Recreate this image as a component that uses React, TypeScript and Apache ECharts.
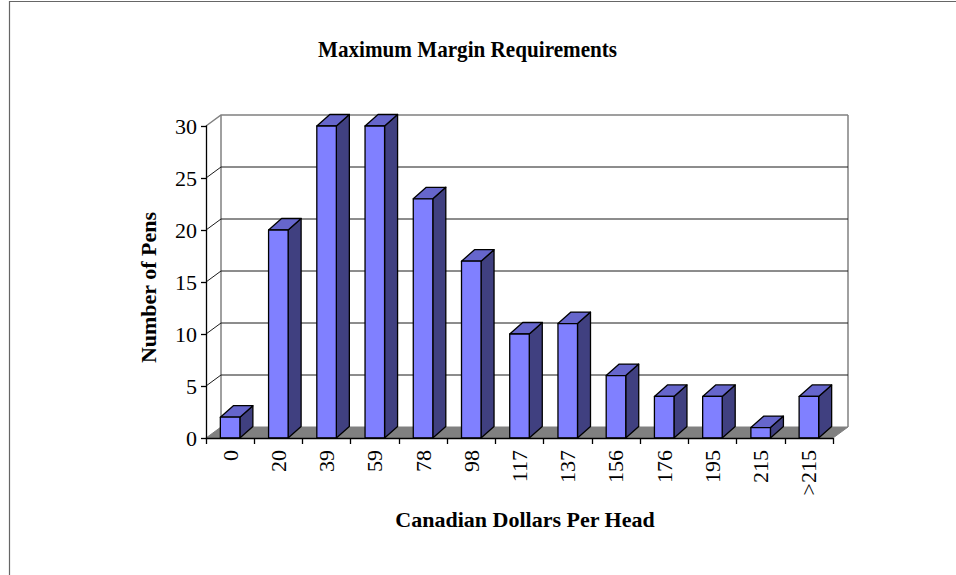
import React, { useEffect, useRef } from "react";
import * as echarts from "echarts";

const categories = ["0", "20", "39", "59", "78", "98", "117", "137", "156", "176", "195", "215", ">215"];
const counts = [2, 20, 30, 30, 23, 17, 10, 11, 6, 4, 4, 1, 4];
const yTicks = [0, 5, 10, 15, 20, 25, 30];
const yMin = 0;
const yMax = 30;
const yStep = 5;

const titleText = "Maximum Margin Requirements";
const xTitle = "Canadian Dollars Per Head";
const yTitle = "Number of Pens";

const FONT = "'Liberation Serif', 'Times New Roman', serif";
const WALL_DX = 15;
const WALL_DY = -11;
const BAR_DX = 13;
const BAR_DY = -11.5;
const BAR_RATIO = 0.405;

export default function App() {
  const ref = useRef<HTMLDivElement>(null);
  useEffect(() => {
    if (!ref.current) return;
    const chart = echarts.init(ref.current, null, { renderer: "svg" });

    const wallRender = (params: any, api: any) => {
      const cs = params.coordSys;
      const v = api.value(1);
      const y = api.coord([0, v])[1];
      const x0 = cs.x;
      const x1 = cs.x + cs.width;
      if (v === yMin) {
        const yTop = api.coord([0, yMax])[1];
        return {
          type: "group",
          children: [
            {
              type: "polygon",
              shape: {
                points: [
                  [x0, y],
                  [x1, y],
                  [x1 + WALL_DX, y + WALL_DY],
                  [x0 + WALL_DX, y + WALL_DY],
                ],
              },
              style: { fill: "#808080", stroke: "#808080", lineWidth: 1 },
            },
            {
              type: "line",
              shape: { x1: x0 + WALL_DX, y1: y + WALL_DY, x2: x0 + WALL_DX, y2: yTop + WALL_DY },
              style: { stroke: "#808080", lineWidth: 1.5 },
            },
            {
              type: "line",
              shape: { x1: x1 + WALL_DX, y1: y + WALL_DY, x2: x1 + WALL_DX, y2: yTop + WALL_DY },
              style: { stroke: "#808080", lineWidth: 1.5 },
            },
          ],
        };
      }
      return {
        type: "polyline",
        shape: {
          points: [
            [x0, y],
            [x0 + WALL_DX, y + WALL_DY],
            [x1 + WALL_DX, y + WALL_DY],
          ],
        },
        style: {
          fill: "none",
          stroke: v === yMax ? "#808080" : "#1a1a1a",
          lineWidth: v === yMax ? 1.5 : 1,
        },
      };
    };

    const barRender = (params: any, api: any) => {
      const idx = api.value(0);
      const val = api.value(1);
      const top = api.coord([idx, val]);
      const base = api.coord([idx, 0]);
      const bw = api.size([1, 0])[0] * BAR_RATIO;
      const xl = top[0] - bw / 2;
      const xr = top[0] + bw / 2;
      const yt = top[1];
      const yb = base[1];
      const edge = { stroke: "#000", lineWidth: 1.3, lineJoin: "round" };
      return {
        type: "group",
        children: [
          {
            type: "polygon",
            shape: {
              points: [
                [xr, yt],
                [xr + BAR_DX, yt + BAR_DY],
                [xr + BAR_DX, yb + BAR_DY],
                [xr, yb],
              ],
            },
            style: { fill: "#404080", ...edge },
          },
          {
            type: "polygon",
            shape: {
              points: [
                [xl, yt],
                [xr, yt],
                [xr + BAR_DX, yt + BAR_DY],
                [xl + BAR_DX, yt + BAR_DY],
              ],
            },
            style: { fill: "#6666cc", ...edge },
          },
          {
            type: "rect",
            shape: { x: xl, y: yt, width: bw, height: yb - yt },
            style: { fill: "#8080ff", ...edge },
          },
        ],
      };
    };

    chart.setOption({
      animation: false,
      backgroundColor: "#ffffff",
      grid: { left: 206, top: 126, width: 627, height: 312, containLabel: false, outerBoundsMode: "none" },
      xAxis: {
        type: "category",
        data: categories,
        boundaryGap: true,
        z: 10,
        axisLine: { show: true, lineStyle: { color: "#000", width: 1.3 } },
        axisTick: { show: true, interval: 0, length: 6, lineStyle: { color: "#000", width: 1.3 } },
        axisLabel: {
          interval: 0,
          rotate: 90,
          margin: 12,
          color: "#000",
          fontFamily: FONT,
          fontSize: 22,
        },
        splitLine: { show: false },
      },
      yAxis: {
        type: "value",
        min: yMin,
        max: yMax,
        interval: yStep,
        z: 10,
        axisLine: { show: true, lineStyle: { color: "#000", width: 1.3 } },
        axisTick: { show: true, length: 5, lineStyle: { color: "#000", width: 1.3 } },
        axisLabel: { margin: 9, color: "#000", fontFamily: FONT, fontSize: 22 },
        splitLine: { show: false },
      },
      graphic: [
        {
          type: "polyline",
          shape: { points: [[9.5, 700], [9.5, 1.5], [1200, 1.5]] },
          style: { fill: "none", stroke: "#666", lineWidth: 1.2 },
          silent: true,
        },
        {
          type: "text",
          x: 467.5,
          y: 49.5,
          scaleX: 0.92,
          style: {
            text: titleText,
            fontFamily: FONT,
            fontSize: 23,
            fontWeight: "bold",
            fill: "#000",
            align: "center",
            verticalAlign: "middle",
          },
          silent: true,
        },
        {
          type: "text",
          x: 525,
          y: 519.5,
          style: {
            text: xTitle,
            fontFamily: FONT,
            fontSize: 22,
            fontWeight: "bold",
            fill: "#000",
            align: "center",
            verticalAlign: "middle",
          },
          silent: true,
        },
        {
          type: "text",
          x: 148,
          y: 287.5,
          rotation: Math.PI / 2,
          style: {
            text: yTitle,
            fontFamily: FONT,
            fontSize: 22,
            fontWeight: "bold",
            fill: "#000",
            align: "center",
            verticalAlign: "middle",
          },
          silent: true,
        },
      ],
      series: [
        {
          type: "custom",
          name: "wall",
          coordinateSystem: "cartesian2d",
          renderItem: wallRender,
          data: yTicks.map((v) => [0, v]),
          clip: false,
          silent: true,
          z: 1,
        },
        {
          type: "custom",
          name: "Number of Pens",
          coordinateSystem: "cartesian2d",
          renderItem: barRender,
          data: counts.map((v, i) => [i, v]),
          clip: false,
          silent: true,
          z: 3,
        },
      ],
    });
    return () => chart.dispose();
  }, []);
  return <div ref={ref} style={{ position: "absolute", left: 0, top: 0, width: 956, height: 575 }} />;
}
